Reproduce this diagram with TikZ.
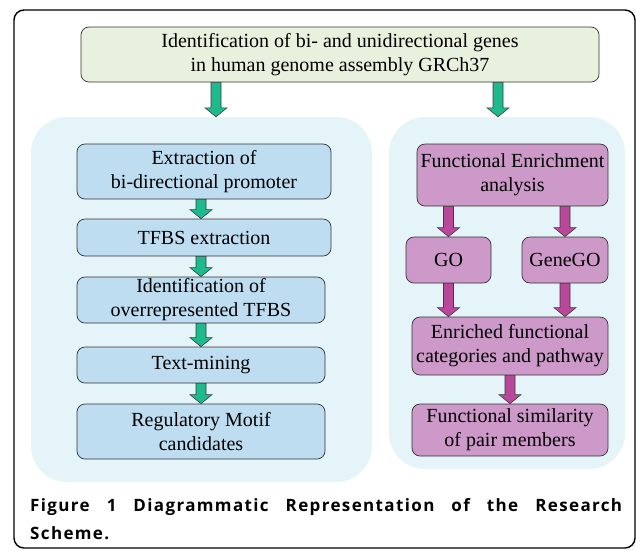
\documentclass[tikz,border=0pt]{standalone}
\usepackage{fontspec}
\setmainfont{Liberation Serif}
\newfontfamily\capfont[LetterSpace=8]{Open Sans}
\usepackage{tikz}
\usetikzlibrary{calc}
\usepackage{xcolor}

\definecolor{topfill}{RGB}{232,240,222}
\definecolor{panelfill}{RGB}{228,244,248}
\definecolor{bluefill}{RGB}{190,221,240}
\definecolor{mauvefill}{RGB}{204,153,201}
\definecolor{greenA}{RGB}{30,185,140}
\definecolor{magA}{RGB}{185,72,155}
\definecolor{arrowline}{RGB}{60,60,60}

\newcommand{\fatarrow}[3]{%
  \filldraw[fill=#1, draw=arrowline, line width=0.6pt]
    let \p1=#2, \p2=#3 in
    (\x1-5pt,\y1) -- (\x1+5pt,\y1) -- (\x1+5pt,\y2+9pt) -- (\x1+11pt,\y2+9pt)
    -- (\x1,\y2) -- (\x1-11pt,\y2+9pt) -- (\x1-5pt,\y2+9pt) -- cycle;}

\begin{document}
\begin{tikzpicture}[x=1pt, y=-1pt,
    box/.style={draw=black!80, line width=0.7pt, rounded corners=8pt, align=center,
      inner sep=0pt, font=\fontsize{20}{24}\selectfont},
    panel/.style={fill=panelfill, rounded corners=36pt, inner sep=0pt},
    bluebox/.style={box, fill=bluefill},
    mauvebox/.style={box, fill=mauvefill}]
    \useasboundingbox (0,0) rectangle (636,550);
    \draw[line width=1.4pt, rounded corners=10pt] (14,10) rectangle (635,548);
    % panels
    \node[panel, minimum width=341pt, minimum height=365pt] (lpanel) at (201.5,299.5) {};
    \node[panel, minimum width=236pt, minimum height=352pt] (rpanel) at (507,293) {};
    \node[box, fill=topfill, minimum width=518pt, minimum height=55pt] (top) at (340,54.5)
        {Identification of bi- and unidirectional genes\\in human genome assembly GRCh37};
    % left column
    \node[bluebox, minimum width=254pt, minimum height=55pt] (ext) at (204,171.5) {Extraction of\\bi-directional promoter};
    \node[bluebox, minimum width=254pt, minimum height=37pt] (tfbs) at (204,237.5) {TFBS extraction};
    \node[bluebox, minimum width=248pt, minimum height=46pt] (ident) at (201,300) {Identification of\\overrepresented TFBS};
    \node[bluebox, minimum width=248pt, minimum height=36pt] (mining) at (201,365) {Text-mining};
    \node[bluebox, minimum width=248pt, minimum height=55pt] (motif) at (201,431.5) {Regulatory Motif\\candidates};
    % right column
    \node[mauvebox, minimum width=191pt, minimum height=62pt] (fea) at (512.5,175) {Functional Enrichment\\analysis};
    \node[mauvebox, minimum width=85pt, minimum height=46pt] (go) at (448.5,260) {GO};
    \node[mauvebox, minimum width=86pt, minimum height=46pt] (genego) at (565,260) {GeneGO};
    \node[mauvebox, minimum width=196pt, minimum height=58pt] (enr) at (510,346) {Enriched functional\\categories and pathway};
    \node[mauvebox, minimum width=196pt, minimum height=52pt] (fsim) at (510,430) {Functional similarity\\ of pair members};
    % arrows
    \fatarrow{greenA}{($(top.south)+(-124,0)$)}{(lpanel.north)}
    \fatarrow{greenA}{($(top.south)+(158,0)$)}{(rpanel.north)}
    \fatarrow{greenA}{(ext.south -| ident.south)}{(tfbs.north)}
    \fatarrow{greenA}{(tfbs.south -| ident.south)}{(ident.north)}
    \fatarrow{greenA}{(ident.south)}{(mining.north)}
    \fatarrow{greenA}{(mining.south)}{(motif.north)}
    \fatarrow{magA}{(fea.south -| go.north)}{(go.north)}
    \fatarrow{magA}{(fea.south -| genego.north)}{(genego.north)}
    \fatarrow{magA}{(go.south)}{(enr.north)}
    \fatarrow{magA}{(genego.south)}{(enr.north)}
    \fatarrow{magA}{(enr.south)}{(fsim.north)}
    % caption
    \node[text width=592pt, align=justify, inner sep=0pt, anchor=north west,
        font=\capfont\bfseries\fontsize{17}{28}\selectfont] (caption) at (30,498)
        {Figure 1 Diagrammatic Representation of the Research\linebreak Scheme.};
\end{tikzpicture}
\end{document}
